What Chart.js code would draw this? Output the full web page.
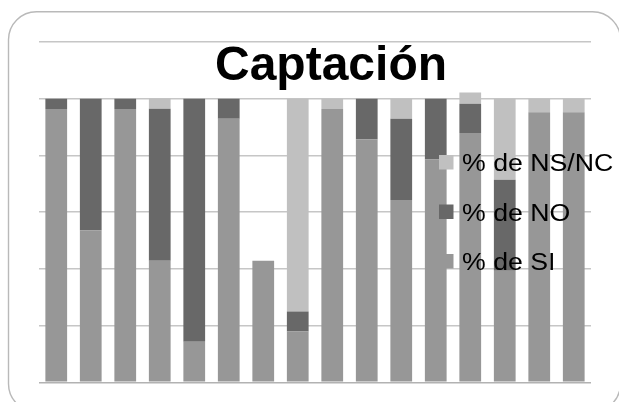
<!DOCTYPE html>
<html>
<head>
<meta charset="utf-8">
<script src="https://cdn.jsdelivr.net/npm/chart.js@4.4.1/dist/chart.umd.min.js"></script>
<style>
  html, body { margin: 0; padding: 0; background: #ffffff; }
  #wrap { width: 619px; height: 402px; position: relative; }
</style>
</head>
<body>
<div id="wrap"><canvas id="c" width="619" height="402"></canvas></div>
<script>
// Survey items (one stacked column each)
const categories = ['1', '2', '3', '4', '5', '6', '7', '8', '9', '10', '11', '12', '13', '14', '15', '16'];

// Share of answers per item, in percent
const siValues   = [96.4, 53.6, 96.4, 42.9, 14.3, 92.9, 42.9, 17.9, 96.4, 85.7, 64.3, 78.6, 87.9, 39.3, 95.2, 95.2];
const noValues   = [3.6, 46.4, 3.6, 53.6, 85.7, 7.1, 0, 7.1, 0, 14.3, 28.6, 21.4, 10.3, 32.1, 0, 0];
const nsncValues = [0, 0, 0, 3.6, 0, 0, 0, 75.0, 3.6, 0, 7.1, 0, 4.0, 28.6, 4.8, 4.8];

const seriesLabels = ['% de SI', '% de NO', '% de NS/NC'];
const seriesColors = ['#979797', '#686868', '#c0c0c0'];

// Value axis: 0 to 120 in steps of 20
const yTicks = [0, 20, 40, 60, 80, 100, 120];

const chartTitle = 'Captación';

// Rounded outer frame
const framePlugin = {
  id: 'frame',
  beforeDraw(chart) {
    const ctx = chart.ctx;
    ctx.save();
    ctx.strokeStyle = '#b9b9b9';
    ctx.lineWidth = 1.4;
    ctx.beginPath();
    ctx.roundRect(8.5, 11.7, 612, 400, 28);
    ctx.stroke();
    ctx.restore();
  }
};

// Title drawn over the upper part of the plot
const overlayTitle = {
  id: 'overlayTitle',
  afterDraw(chart) {
    const ctx = chart.ctx;
    ctx.save();
    ctx.fillStyle = '#000000';
    ctx.font = 'bold 48px "Liberation Sans", Arial, sans-serif';
    ctx.textAlign = 'center';
    ctx.textBaseline = 'alphabetic';
    ctx.fillText(chartTitle, 331, 79.5);
    ctx.restore();
  }
};

// Legend floating inside the plot on the right, top series first
const overlayLegend = {
  id: 'overlayLegend',
  afterDraw(chart) {
    const ctx = chart.ctx;
    const items = chart.data.datasets.map(d => ({ label: d.label, color: d.backgroundColor })).reverse();
    ctx.save();
    ctx.font = '23px "Liberation Sans", Arial, sans-serif';
    ctx.textBaseline = 'alphabetic';
    ctx.textAlign = 'left';
    items.forEach((it, i) => {
      const top = 155 + i * 49.5;
      ctx.fillStyle = it.color;
      ctx.fillRect(439, top, 14.5, 14.5);
      ctx.fillStyle = '#000000';
      ctx.save();
      ctx.translate(462, top + 16);
      ctx.scale(1.16, 1);
      ctx.fillText(it.label, 0, 0);
      ctx.restore();
    });
    ctx.restore();
  }
};

const valueSets = [siValues, noValues, nsncValues];

new Chart(document.getElementById('c'), {
  type: 'bar',
  data: {
    labels: categories,
    datasets: valueSets.map((vals, i) => ({
      label: seriesLabels[i],
      data: vals,
      backgroundColor: seriesColors[i],
      borderWidth: 0,
      categoryPercentage: 1.0,
      barPercentage: 0.63
    }))
  },
  options: {
    responsive: false,
    animation: false,
    devicePixelRatio: 1,
    layout: { padding: { left: 39, right: 28, top: 42, bottom: 19.7 } },
    plugins: {
      legend: { display: false },
      title: { display: false },
      tooltip: { enabled: false }
    },
    scales: {
      x: {
        stacked: true,
        display: false
      },
      y: {
        stacked: true,
        min: yTicks[0],
        max: yTicks[yTicks.length - 1],
        afterBuildTicks(scale) { scale.ticks = yTicks.map(v => ({ value: v })); },
        ticks: { display: false },
        border: { display: false },
        grid: {
          drawTicks: false,
          lineWidth: 1.4,
          color: ctx => (ctx.tick && ctx.tick.value === 0) ? '#b2b2b2' : '#c6c6c6'
        }
      }
    }
  },
  plugins: [framePlugin, overlayTitle, overlayLegend]
});
</script>
</body>
</html>
